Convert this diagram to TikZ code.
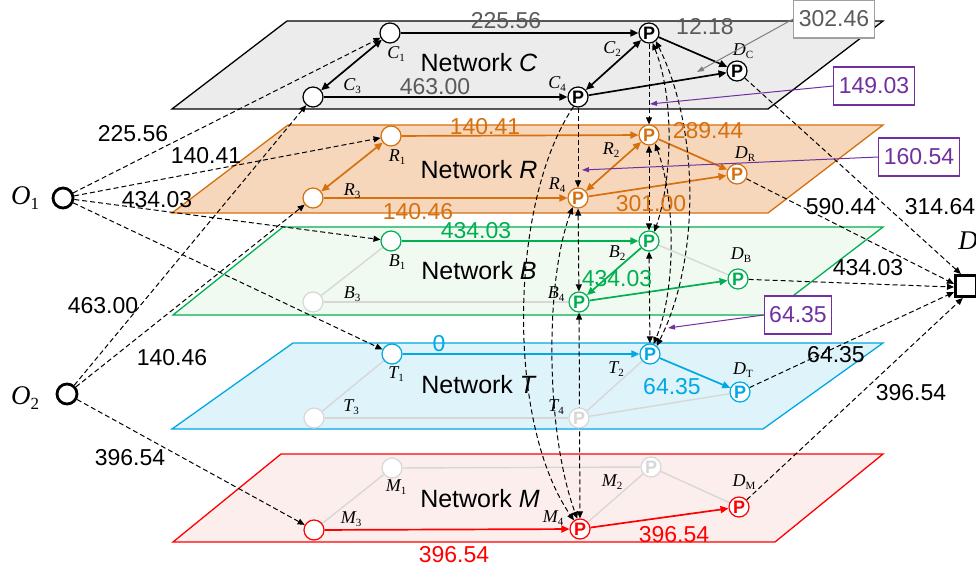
\documentclass[tikz,border=0pt]{standalone}
\usepackage{fontspec}
\setmainfont{Liberation Sans}
\newfontfamily\lserif{Liberation Serif}
\usetikzlibrary{arrows.meta}
\pgfdeclarelayer{planes}
\pgfdeclarelayer{links}
\pgfsetlayers{planes,links,main}
\definecolor{cCfill}{RGB}{236,236,236}
\definecolor{cCtxt}{RGB}{90,90,90}
\definecolor{cR}{RGB}{214,112,14}
\definecolor{cRfill}{RGB}{246,215,188}
\definecolor{cB}{RGB}{0,176,80}
\definecolor{cBfill}{RGB}{241,250,241}
\definecolor{cT}{RGB}{0,168,228}
\definecolor{cTfill}{RGB}{223,243,250}
\definecolor{cM}{RGB}{255,0,0}
\definecolor{cMfill}{RGB}{253,238,238}
\definecolor{cPur}{RGB}{112,48,160}
\definecolor{cFade}{RGB}{215,215,215}
\definecolor{cBox}{RGB}{160,160,160}
\newcommand\nlab[2]{{\lserif\fontsize{18}{18}\selectfont\itshape #1}\raisebox{-3.5pt}{\lserif\fontsize{11}{11}\selectfont #2}}
\newcommand\olab[2]{{\lserif\fontsize{27}{27}\selectfont\itshape #1}\raisebox{-5pt}{\lserif\fontsize{17}{17}\selectfont #2}}
\tikzset{
  plane/.style={line width=1.3pt},
  pn/.style={circle, draw=#1, fill=white, text=#1, line width=1.2pt, minimum size=20pt, inner sep=0pt, font=\fontsize{18}{18}\selectfont\bfseries},
  en/.style={circle, draw=#1, fill=white, line width=1.2pt, minimum size=20pt, inner sep=0pt},
  ed/.style={draw=#1, line width=1.7pt, -{Triangle[length=8pt,width=7pt]}},
  edd/.style={draw=#1, line width=1.7pt, {Triangle[length=8pt,width=7pt]}-{Triangle[length=8pt,width=7pt]}},
  fl/.style={draw=cFade, line width=1.4pt},
  tr/.style={draw=black, line width=1pt, dash pattern=on 5pt off 3pt, -{Triangle[length=7pt,width=6pt]}},
  trr/.style={draw=black, line width=1pt, dash pattern=on 5pt off 3pt, {Triangle[length=7pt,width=6pt]}-{Triangle[length=7pt,width=6pt]}},
  num/.style={font=\fontsize{23}{23}\selectfont, inner sep=0pt},
  netl/.style={font=\fontsize{25}{25}\selectfont, inner sep=0pt},
  lab/.style={inner sep=0pt},
  annbox/.style={draw=#1, line width=1.2pt, font=\fontsize{23}{23}\selectfont, text=#1, inner xsep=5pt, minimum height=38pt},
  ann/.style={draw=#1, line width=1pt, -{Triangle[length=7pt,width=5pt]}},
}
\begin{document}
\begin{tikzpicture}[x=1pt,y=-1pt]
\useasboundingbox (0,0) rectangle (976,569);
% ---------- planes
\begin{pgfonlayer}{planes}
\filldraw[plane, fill=cCfill, draw=black] (287,21) -- (883,21) -- (768,109) -- (172,109) -- cycle;
\filldraw[plane, fill=cRfill, draw=cR] (288,125) -- (883,125) -- (768,213) -- (172,213) -- cycle;
\filldraw[plane, fill=cBfill, draw=cB] (283,227) -- (883,227) -- (768,315) -- (173,315) -- cycle;
\filldraw[plane, fill=cTfill, draw=cT] (293,343) -- (883,343) -- (763,429) -- (172,429) -- cycle;
\filldraw[plane, fill=cMfill, draw=cM] (281,454) -- (883,454) -- (775,542) -- (173,542) -- cycle;
\end{pgfonlayer}
% ---------- nodes
\node[en=black] (C1) at (390,33) {};
\node[en=black] (C3) at (313,97) {};
\node[pn=black] (C2) at (649,33) {P};
\node[pn=black] (C4) at (578,97) {P};
\node[pn=black] (DC) at (737,71) {P};
\node[en=cR] (R1) at (391,136) {};
\node[en=cR] (R3) at (313,198) {};
\node[pn=cR] (R2) at (649,135) {P};
\node[pn=cR] (R4) at (578,198) {P};
\node[pn=cR] (DR) at (737,174) {P};
\node[en=cB] (B1) at (391,241) {};
\node[en=cFade] (B3) at (313,302) {};
\node[pn=cB] (B2) at (649,241) {P};
\node[pn=cB] (B4) at (579,302) {P};
\node[pn=cB] (DB) at (738,279) {P};
\node[en=cT] (T1) at (392,354) {};
\node[en=cFade] (T3) at (314,418) {};
\node[pn=cT] (T2) at (650,354) {P};
\node[pn=cFade] (T4) at (579,418) {P};
\node[pn=cT] (DT) at (740,392) {P};
\node[en=cFade] (M1) at (392,468) {};
\node[en=cM] (M3) at (314,530) {};
\node[pn=cFade] (M2) at (651,467) {P};
\node[pn=cM] (M4) at (580,529) {P};
\node[pn=cM] (DM) at (739,507) {P};
\node[circle, draw, line width=2.8pt, minimum size=20pt, inner sep=0pt] (O1) at (63,198) {};
\node[circle, draw, line width=2.8pt, minimum size=20pt, inner sep=0pt] (O2) at (67,394) {};
\node[draw, fill=white, line width=3pt, minimum size=21pt, inner sep=0pt] (D) at (966,286) {};
% ---------- node labels
\node[lab] (lC1) at (396,54) {\nlab{C}{1}};
\node[lab] (lC3) at (352,86) {\nlab{C}{3}};
\node[lab] (lC2) at (612,49) {\nlab{C}{2}};
\node[lab] (lC4) at (557,84) {\nlab{C}{4}};
\node[lab] (lDC) at (743,51) {\nlab{D}{C}};
\node[lab] (lR1) at (397,157) {\nlab{R}{1}};
\node[lab] (lR3) at (352,191) {\nlab{R}{3}};
\node[lab] (lR2) at (611,150) {\nlab{R}{2}};
\node[lab] (lR4) at (557,185) {\nlab{R}{4}};
\node[lab] (lDR) at (745,154) {\nlab{D}{R}};
\node[lab] (lB1) at (397,262) {\nlab{B}{1}};
\node[lab] (lB3) at (352,294) {\nlab{B}{3}};
\node[lab] (lB2) at (617,253) {\nlab{B}{2}};
\node[lab] (lB4) at (556,294) {\nlab{B}{4}};
\node[lab] (lDB) at (741,255) {\nlab{D}{B}};
\node[lab] (lT1) at (396,374) {\nlab{T}{1}};
\node[lab] (lT3) at (351,407) {\nlab{T}{3}};
\node[lab] (lT2) at (616,369) {\nlab{T}{2}};
\node[lab] (lT4) at (556,407) {\nlab{T}{4}};
\node[lab] (lDT) at (743,370) {\nlab{D}{T}};
\node[lab] (lM1) at (396,487) {\nlab{M}{1}};
\node[lab] (lM3) at (351,519) {\nlab{M}{3}};
\node[lab] (lM2) at (612,482) {\nlab{M}{2}};
\node[lab] (lM4) at (553,518) {\nlab{M}{4}};
\node[lab] (lDM) at (744,482) {\nlab{D}{M}};
\node[lab] (lO1) at (25,198) {\olab{O}{1}};
\node[lab] (lO2) at (25,398) {\olab{O}{2}};
\node[lab] (lD) at (968,241) {\lserif\fontsize{27}{27}\selectfont\itshape D};
% ---------- network names
\node[netl] (nC) at (479,63) {Network \textit{C}};
\node[netl] (nR) at (479,170) {Network \textit{R}};
\node[netl] (nB) at (479,271) {Network \textit{B}};
\node[netl] (nT) at (479,385) {Network \textit{T}};
\node[netl] (nM) at (480,499) {Network \textit{M}};
% ---------- edge labels
\node[num, text=cCtxt] (e1) at (506,21) {225.56};
\node[num, text=cCtxt] (e2) at (435,87) {463.00};
\node[num, text=cCtxt] (e3) at (705,27) {12.18};
\node[num, text=cR] (e4) at (485,127) {140.41};
\node[num, text=cR] (e5) at (418,212) {140.46};
\node[num, text=cR] (e6) at (708,131) {289.44};
\node[num, text=cR] (e7) at (651,204) {301.00};
\node[num, text=cB] (e8) at (476,231) {434.03};
\node[num, text=cB] (e9) at (617,279) {434.03};
\node[num, text=cT] (e10) at (439,344) {0};
\node[num, text=cT] (e11) at (672,387) {64.35};
\node[num, text=cM] (e12) at (454,555) {396.54};
\node[num, text=cM] (e13) at (674,535) {396.54};
\node[num] (e14) at (133,134) {225.56};
\node[num] (e15) at (206,156) {140.41};
\node[num] (e16) at (157,200) {434.03};
\node[num] (e17) at (103,306) {463.00};
\node[num] (e18) at (172,358) {140.46};
\node[num] (e19) at (130,458) {396.54};
\node[num] (e20) at (841,207) {590.44};
\node[num] (e21) at (940,207) {314.64};
\node[num] (e22) at (868,268) {434.03};
\node[num] (e23) at (836,355) {64.35};
\node[num] (e24) at (911,393) {396.54};
% ---------- annotation boxes
\node[annbox=cCtxt, draw=cBox, fill=white] (a1) at (834,19) {302.46};
\node[annbox=cPur, fill=white] (a2) at (874,86) {149.03};
\node[annbox=cPur, fill=white] (a3) at (919,157) {160.54};
\node[annbox=cPur, fill=white] (a4) at (798,315) {64.35};
\coordinate (p1) at (697,72);
\coordinate (p2) at (650,104);
\coordinate (p3) at (582,170);
\coordinate (p4) at (668,328);
% ---------- links
\begin{pgfonlayer}{links}
% plane C
\draw[ed=black] (C1) -- (C2);
\draw[ed=black] (C3) -- (C4);
\draw[edd=black] (C1) -- (C3);
\draw[edd=black] (C2) -- (C4);
\draw[ed=black] (C2) -- (DC);
\draw[ed=black] (C4) -- (DC);
% plane R
\draw[ed=cR] (R1) -- (R2);
\draw[ed=cR] (R3) -- (R4);
\draw[edd=cR] (R1) -- (R3);
\draw[edd=cR] (R2) -- (R4);
\draw[ed=cR] (R2) -- (DR);
\draw[ed=cR] (R4) -- (DR);
% plane B
\draw[fl] (B1) -- (B3);
\draw[fl] (B3) -- (B4);
\draw[fl] (B2) -- (DB);
\draw[ed=cB] (B1) -- (B2);
\draw[ed=cB] (B2) -- (B4);
\draw[ed=cB] (B4) -- (DB);
% plane T
\draw[fl] (T1) -- (T3);
\draw[fl] (T3) -- (T4);
\draw[fl] (T4) -- (T2);
\draw[fl] (T4) -- (DT);
\draw[ed=cT] (T1) -- (T2);
\draw[ed=cT] (T2) -- (DT);
% plane M
\draw[fl] (M1) -- (M3);
\draw[fl] (M1) -- (M2);
\draw[fl] (M2) -- (M4);
\draw[fl] (M2) -- (DM);
\draw[ed=cM] (M3) -- (M4);
\draw[ed=cM] (M4) -- (DM);
% transfers between networks
\draw[tr] (C2) -- (R2);
\draw[tr] (C4) -- (R4);
\draw[trr] (R2) -- (B2);
\draw[trr] (B2) -- (T2);
\draw[trr] (R4) -- (B4);
\draw[trr] (B4) -- (M4);
\draw[trr] (C2.-70) .. controls (675,100) and (672,180) .. (B2.60);
\draw[trr] (C2.-50) .. controls (700,130) and (700,260) .. (T2.50);
\draw[trr] (R2.-55) .. controls (676,200) and (676,290) .. (T2.70);
\draw[tr] (C4.-115) .. controls (510,200) and (505,420) .. (M4.125);
\draw[trr] (R4.-120) .. controls (545,280) and (545,430) .. (M4.105);
% origins
\draw[tr] (O1) -- (C1);
\draw[tr] (O1) -- (R1);
\draw[tr] (O1) -- (B1);
\draw[tr] (O1) -- (T1);
\draw[tr] (O2) -- (C3);
\draw[tr] (O2) -- (R3);
\draw[tr] (O2) -- (M3);
% destination
\draw[tr] (DC) -- (D.113);
\draw[tr] (DR) -- (D.170);
\draw[tr] (DB) -- (D.185);
\draw[tr] (DT) -- (D.207);
\draw[tr] (DM) -- (D.255);
\end{pgfonlayer}
% annotation arrows
\draw[ann=cBox!80!black] (a1.west) -- (p1);
\draw[ann=cPur] (a2.west) -- (p2);
\draw[ann=cPur] (a3.west) -- (p3);
\draw[ann=cPur] (a4.west) -- (p4);
\end{tikzpicture}
\end{document}
